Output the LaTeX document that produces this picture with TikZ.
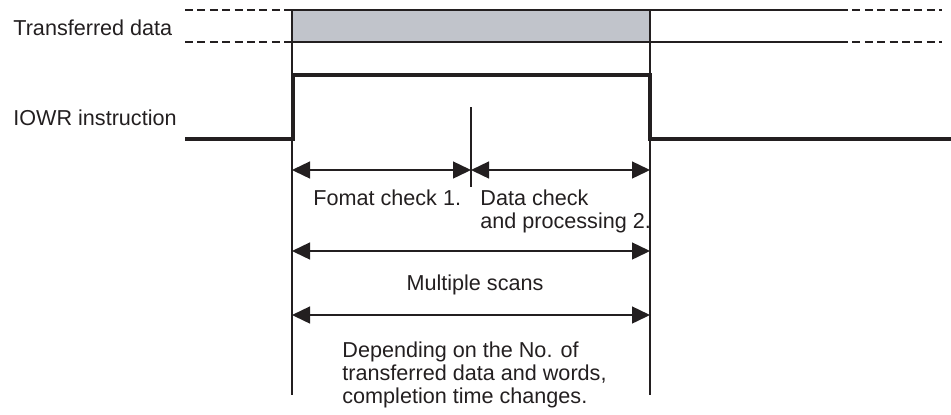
\documentclass[tikz,border=0pt]{standalone}
\usepackage{fontspec}
\setmainfont{Liberation Sans}
\usetikzlibrary{arrows.meta}
\definecolor{boxgray}{HTML}{C1C4CB}
\definecolor{ink}{HTML}{231F20}
\begin{document}
\begin{tikzpicture}[x=0.5pt,y=-0.5pt,
  lbl/.style={inner sep=0pt,anchor=base west,font=\fontsize{10.8}{11.5}\selectfont,text=ink,align=left},
  thinline/.style={draw=ink,line width=0.65pt},
  dashline/.style={draw=ink,line width=0.65pt,dash pattern=on 4pt off 2.2pt},
  signal/.style={draw=ink,line width=1.75pt,line join=miter},
  dimarrow/.style={draw=ink,line width=0.7pt,{Triangle[length=9pt,width=8.5pt]}-{Triangle[length=9pt,width=8.5pt]}}]
\useasboundingbox (0,0) rectangle (951,414);
% coordinates
\coordinate (dl1) at (185,10);
\coordinate (dl2) at (185,42);
\coordinate (bx1) at (292,10);
\coordinate (bx2) at (650,42);
\coordinate (rs1) at (840,10);
\coordinate (rs2) at (840,42);
\coordinate (re1) at (942,10);
\coordinate (re2) at (942,42);
\coordinate (vl0) at (292,42);
\coordinate (vlb) at (292,395);
\coordinate (vr0) at (650,42);
\coordinate (vrb) at (650,395);
\coordinate (mt) at (471,107);
\coordinate (mb) at (471,187);
\coordinate (s0) at (185,139);
\coordinate (s1) at (293,139);
\coordinate (s2) at (293,75);
\coordinate (s3) at (650,75);
\coordinate (s4) at (650,139);
\coordinate (s5) at (951,139);
\coordinate (a1l) at (292,170);
\coordinate (a1m) at (471,170);
\coordinate (a1r) at (650,170);
\coordinate (a2l) at (292,251);
\coordinate (a2r) at (650,251);
\coordinate (a3l) at (292,315);
\coordinate (a3r) at (650,315);
% transferred data
\draw[dashline] (dl1) -- (bx1);
\draw[dashline] (dl2) -- (bx1 |- dl2);
\filldraw[fill=boxgray,draw=ink,line width=0.75pt] (bx1) rectangle (bx2);
\draw[thinline] (bx2 |- bx1) -- (rs1);
\draw[thinline] (bx2) -- (rs2);
\draw[dashline] (rs1) -- (re1);
\draw[dashline] (rs2) -- (re2);
% vertical guides
\draw[thinline] (vl0) -- (vlb);
\draw[thinline] (vr0) -- (vrb);
\draw[thinline] (mt) -- (mb);
% signal
\draw[signal] (s0) -- (s1) -- (s2) -- (s3) -- (s4) -- (s5);
% arrows
\draw[dimarrow] (a1l) -- (a1m);
\draw[dimarrow] (a1m) -- (a1r);
\draw[dimarrow] (a2l) -- (a2r);
\draw[dimarrow] (a3l) -- (a3r);
% labels
\node[lbl] (td) at (13,35) {Transferred data};
\node[lbl] (iowr) at (13,125) {IOWR instruction};
\node[lbl] (fc) at (313,205) {Fomat check 1.};
\node[lbl] (dc) at (480,228) {Data check\\and processing 2.};
\node[lbl,anchor=base] (ms) at (475,290) {Multiple scans};
\node[lbl] (dep) at (342,403) {Depending on the No. of\\transferred data and words,\\completion time changes.};
\end{tikzpicture}
\end{document}
